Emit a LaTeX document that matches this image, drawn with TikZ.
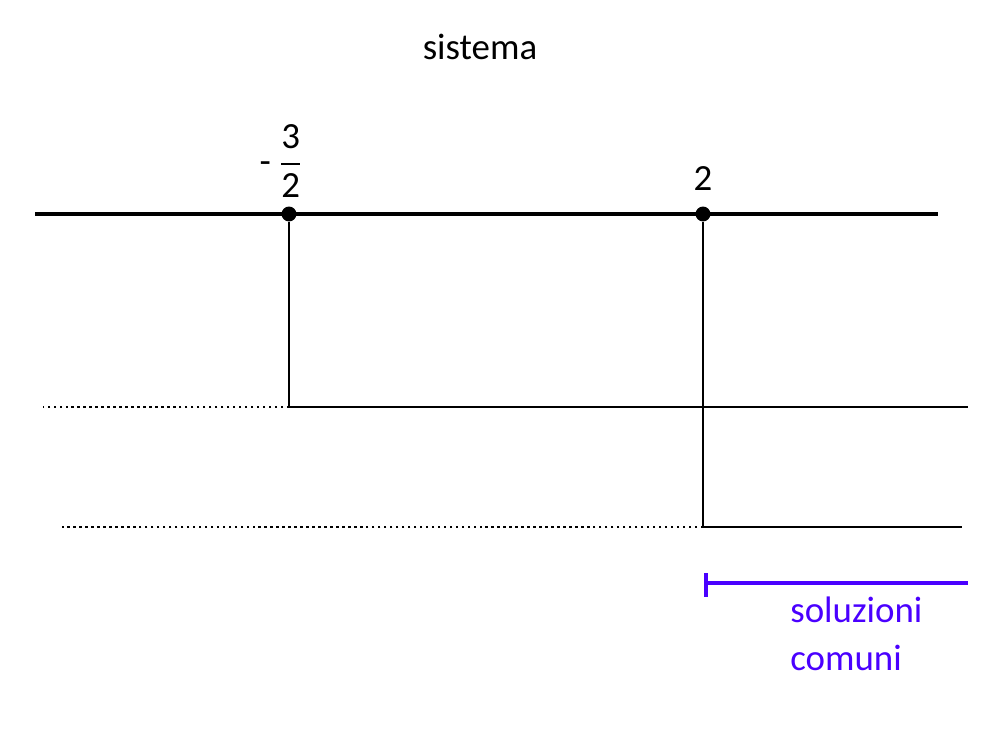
\documentclass[tikz,border=0pt]{standalone}
\usepackage{amsmath}
\usepackage{fontspec}
\setmainfont{Carlito}
\usepackage{tikz}
\usetikzlibrary{positioning}
\tikzset{circ/.style = {fill, circle, inner sep = 0, minimum size = 8.5pt}}
\tikzset{axis/.style = {line width = 2.3pt}}
\tikzset{sol/.style = {line width = 1.2pt}}
\tikzset{nosol/.style = {line width = 1.4pt, dash pattern = on 1.4pt off 2pt}}
\tikzset{lab/.style = {font = \fontsize{21}{27}\selectfont, inner sep = 0, anchor = base}}
\definecolor{mviolet}{rgb}{0.29, 0.0, 1.0}

\begin{document}
\begin{tikzpicture}[x=0.02cm, y=-0.02cm]
      \useasboundingbox (0, 0) rectangle (1000, 750);

      \node [lab] (title) at (480, 60) {sistema};

      \draw [axis] (35, 214) -- (938, 214);
      \node [circ] (pa) at (289, 214) {};
      \node [circ] (pb) at (703, 214) {};
      \node [lab] (la) at (281, 173) {- \(\dfrac{\text{3}}{\text{2}}\)};
      \node [lab] (lb) at (703, 190) {2};

      \coordinate (ca) at (289, 407);
      \coordinate (cb) at (703, 527);
      \draw [line width = 0.8pt] (pa) -- (ca);
      \draw [line width = 0.8pt] (pb) -- (cb);
      \draw [sol] (ca) -- (968, 407);
      \draw [nosol] (ca) -- (43, 407);
      \draw [sol] (cb) -- (962, 527);
      \draw [nosol] (cb) -- (62, 527);

      \draw [mviolet, line width = 2.3pt] (706, 583) -- (968, 583);
      \draw [mviolet, line width = 2.3pt] (706, 573) -- (706, 597);
      \node [lab, mviolet, anchor = base west, align = left] (sc) at (790, 670)
        {soluzioni\\comuni};
    \end{tikzpicture}
\end{document}
